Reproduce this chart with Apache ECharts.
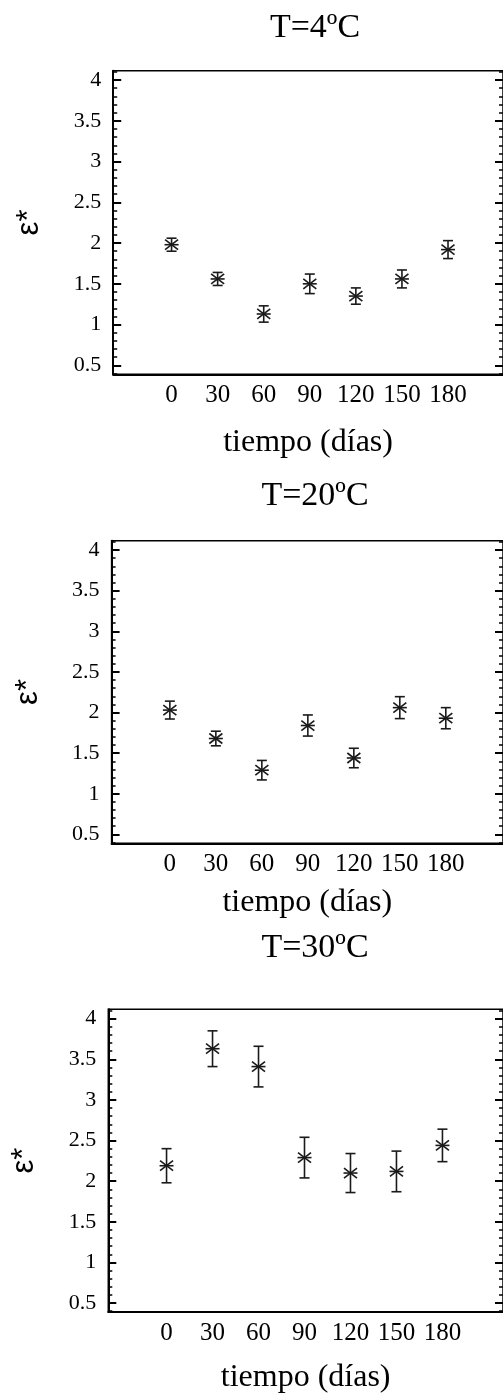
<!DOCTYPE html>
<html>
<head>
<meta charset="utf-8">
<script src="https://cdn.jsdelivr.net/npm/echarts@6/dist/echarts.min.js"></script>
<style>
  html, body { margin: 0; padding: 0; background: #fff; }
  #chart { width: 503px; height: 1395px; }
</style>
</head>
<body>
<div id="chart"></div>
<script>
// dias de almacenamiento
var dias = [0, 30, 60, 90, 120, 150, 180];

// epsilon* a cada temperatura, con su barra de error
var eps4 = [1.98, 1.56, 1.13, 1.50, 1.35, 1.56, 1.92];
var err4 = [0.08, 0.08, 0.10, 0.12, 0.10, 0.11, 0.11];
var eps20 = [2.03, 1.68, 1.29, 1.84, 1.44, 2.06, 1.93];
var err20 = [0.11, 0.09, 0.12, 0.13, 0.12, 0.135, 0.13];
var eps30 = [2.19, 3.63, 3.41, 2.29, 2.10, 2.12, 2.44];
var err30 = [0.21, 0.22, 0.25, 0.25, 0.24, 0.25, 0.20];

var titulos = ['T=4ºC', 'T=20ºC', 'T=30ºC'];
var yMajor = [0.5, 1, 1.5, 2, 2.5, 3, 3.5, 4];
var yMinor = [0.4, 0.6, 0.7, 0.8, 0.9, 1.1, 1.2, 1.3, 1.4, 1.6, 1.7, 1.8, 1.9,
  2.1, 2.2, 2.3, 2.4, 2.6, 2.7, 2.8, 2.9, 3.1, 3.2, 3.3, 3.4,
  3.6, 3.7, 3.8, 3.9, 4.1];

var serif = 'Liberation Serif';
var ink = '#1a1a1a';

// posicion de cada panel
var paneles = [
  {eps: eps4, err: err4, left: 113.2, top: 70.7, height: 303.6, xMax: 215.8, titleTop: 6.5, nameGap: 52},
  {eps: eps20, err: err20, left: 111.6, top: 540.7, height: 302.6, xMax: 217.3, titleTop: 474.5, nameGap: 43},
  {eps: eps30, err: err30, left: 108.3, top: 1009.3, height: 304, xMax: 219.5, titleTop: 926, nameGap: 50}
];

var grid = [], xAxis = [], yAxis = [], series = [], title = [];

function starItem(params, api) {
  var x = api.value(0), y = api.value(1), e = api.value(2);
  var p = api.coord([x, y]);
  var hi = api.coord([x, y + e]);
  var lo = api.coord([x, y - e]);
  var st = {stroke: ink, lineWidth: 1.6};
  return {
    type: 'group',
    children: [
      {type: 'line', shape: {x1: p[0], y1: hi[1], x2: p[0], y2: lo[1]}, style: st},
      {type: 'line', shape: {x1: p[0] - 5, y1: hi[1], x2: p[0] + 5, y2: hi[1]}, style: st},
      {type: 'line', shape: {x1: p[0] - 5, y1: lo[1], x2: p[0] + 5, y2: lo[1]}, style: st},
      {type: 'line', shape: {x1: p[0] - 7, y1: p[1], x2: p[0] + 7, y2: p[1]}, style: st},
      {type: 'line', shape: {x1: p[0] - 6.5, y1: p[1] - 5, x2: p[0] + 6.5, y2: p[1] + 5}, style: st},
      {type: 'line', shape: {x1: p[0] - 6.5, y1: p[1] + 5, x2: p[0] + 6.5, y2: p[1] - 5}, style: st}
    ]
  };
}

paneles.forEach(function (pn, i) {
  grid.push({
    left: pn.left, top: pn.top, width: 504 - pn.left, height: pn.height,
    show: true, borderColor: '#000', borderWidth: 1.5, backgroundColor: 'transparent'
  });
  title.push({
    text: titulos[i], left: 310, top: pn.titleTop, textAlign: 'center',
    textStyle: {fontFamily: serif, fontSize: 34, fontWeight: 'normal', color: '#000'}
  });
  xAxis.push({
    gridIndex: i, type: 'value', min: -38, max: pn.xMax,
    name: 'tiempo (días)', nameLocation: 'middle', nameGap: pn.nameGap,
    nameTextStyle: {fontFamily: serif, fontSize: 32, color: '#000'},
    axisLine: {show: true, onZero: false, lineStyle: {color: '#000', width: 2}},
    axisTick: {show: false},
    splitLine: {show: false},
    axisLabel: {customValues: dias, margin: 9, fontFamily: serif, fontSize: 25, color: '#000'}
  });
  var base = {gridIndex: i, type: 'value', min: 0.39, max: 4.115, splitLine: {show: false}};
  // eje izquierdo: marcas principales y etiquetas
  yAxis.push(Object.assign({}, base, {
    position: 'left',
    name: 'ε*', nameLocation: 'middle', nameRotate: 90, nameGap: 68,
    nameTextStyle: {fontFamily: 'Liberation Sans', fontSize: 31, color: '#000'},
    axisLine: {show: true, onZero: false, lineStyle: {color: '#000', width: 2}},
    axisTick: {inside: true, length: 8, customValues: yMajor, lineStyle: {color: '#000', width: 2}},
    axisLabel: {customValues: yMajor, margin: 12, fontFamily: serif, fontSize: 22, color: '#000'}
  }));
  yAxis.push(Object.assign({}, base, {
    position: 'left',
    axisLine: {show: false, onZero: false},
    axisTick: {inside: true, length: 4, customValues: yMinor, lineStyle: {color: '#000', width: 1.5}},
    axisLabel: {show: false}
  }));
  // eje derecho espejo
  yAxis.push(Object.assign({}, base, {
    position: 'right',
    axisLine: {show: false, onZero: false},
    axisTick: {inside: true, length: 8, customValues: yMajor, lineStyle: {color: '#000', width: 2}},
    axisLabel: {show: false}
  }));
  yAxis.push(Object.assign({}, base, {
    position: 'right',
    axisLine: {show: false, onZero: false},
    axisTick: {inside: true, length: 4, customValues: yMinor, lineStyle: {color: '#000', width: 1.5}},
    axisLabel: {show: false}
  }));

  var data = [];
  for (var k = 0; k < dias.length; k++) {
    data.push([dias[k], pn.eps[k], pn.err[k]]);
  }
  series.push({
    type: 'custom',
    xAxisIndex: i,
    yAxisIndex: i * 4,
    renderItem: starItem,
    data: data,
    silent: true
  });
});

var chart = echarts.init(document.getElementById('chart'), null, {renderer: 'canvas'});
chart.setOption({
  animation: false,
  backgroundColor: '#fff',
  title: title,
  grid: grid,
  xAxis: xAxis,
  yAxis: yAxis,
  series: series
});
</script>
</body>
</html>
